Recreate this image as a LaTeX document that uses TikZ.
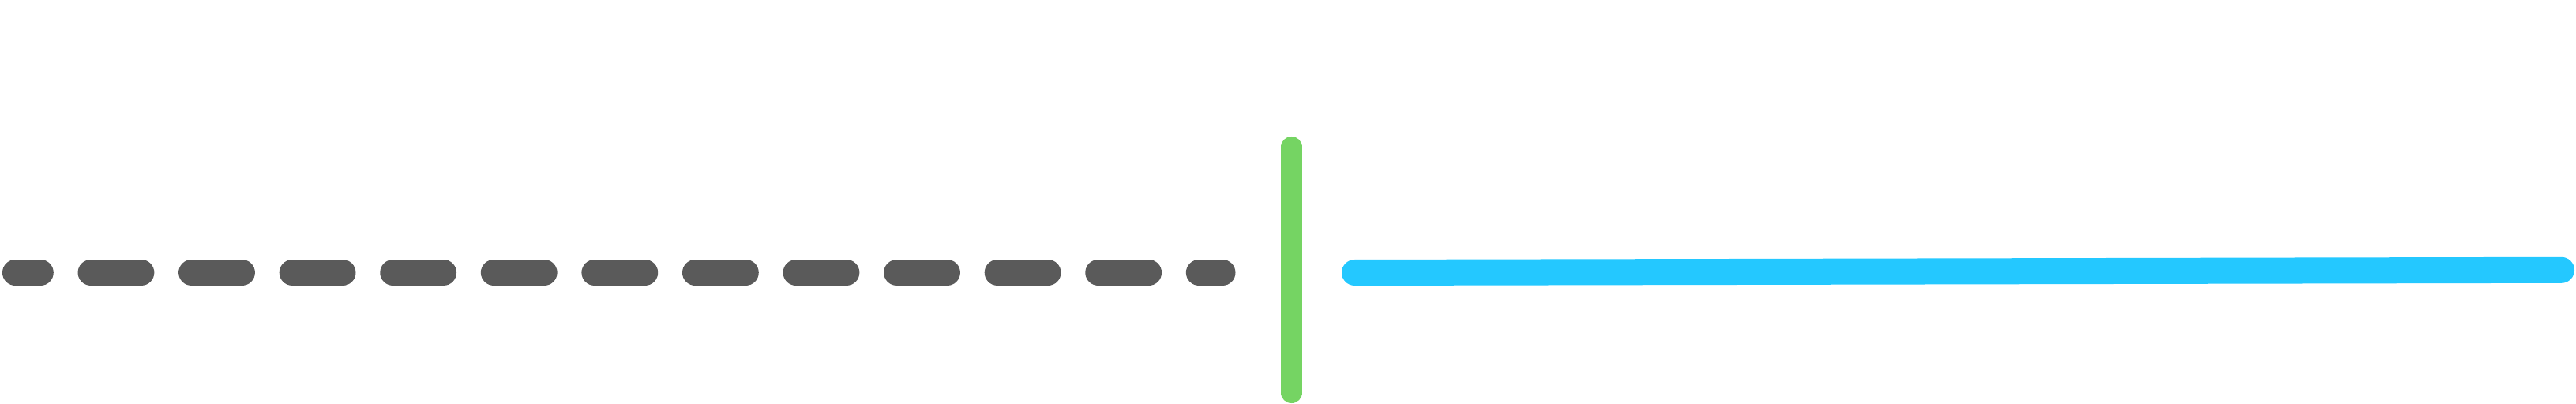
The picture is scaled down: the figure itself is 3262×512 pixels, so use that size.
\documentclass[tikz,border=0pt]{standalone}
\usepackage{tikz}

\definecolor{grisTrazo}{RGB}{90,90,90}
\definecolor{verdeCorte}{RGB}{117,212,99}
\definecolor{azulRayo}{RGB}{36,200,255}

\begin{document}
\begin{tikzpicture}[x=0.01cm, y=-0.01cm, line cap=round]
    \useasboundingbox (0,0) rectangle (3262,512);

    % Puntos de referencia
    \coordinate (ini) at (19.5,345.5);
    \coordinate (fin) at (1548,345.5);
    \coordinate (arriba) at (1635.5,186.5);
    \coordinate (abajo) at (1635.5,497.5);
    \coordinate (rayoA) at (1715.5,345.5);
    \coordinate (rayoB) at (3243.5,342.3);

    % Tramo discontinuo
    \draw[grisTrazo, line width=0.33cm, dash pattern=on 0.6375cm off 0.6375cm, dash phase=0.32cm] (ini) -- (fin);

    % Linea de corte
    \draw[verdeCorte, line width=0.27cm] (arriba) -- (abajo);

    % Tramo continuo
    \draw[azulRayo, line width=0.33cm] (rayoA) -- (rayoB);
\end{tikzpicture}
\end{document}
